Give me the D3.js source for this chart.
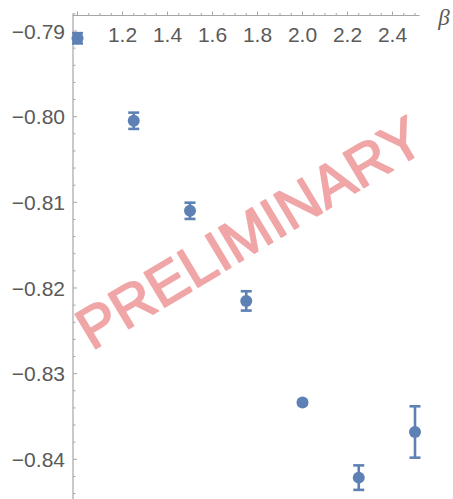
<!DOCTYPE html>
<html>
<head>
<meta charset="utf-8">
<script src="https://cdn.jsdelivr.net/npm/d3@7"></script>
<style>
html,body{margin:0;padding:0;background:#fff;}
svg{display:block;}
</style>
</head>
<body>
<svg id="chart" width="453" height="499"></svg>
<script>
const betas = [1.0, 1.25, 1.5, 1.75, 2.0, 2.25, 2.5];
const values = [-0.79085, -0.80048, -0.81099, -0.82151, -0.83338, -0.84214, -0.83681];
const errors = [0.0006, 0.00095, 0.00095, 0.00113, 0.0002, 0.00143, 0.003];
const xTickLabels = [1.2, 1.4, 1.6, 1.8, 2.0, 2.2, 2.4];
const yTickLabels = [-0.79, -0.80, -0.81, -0.82, -0.83, -0.84];
const xLabel = "β";
const watermark = "PRELIMINARY";

const svg = d3.select("#chart");
const color = "rgb(94,129,181)";
const axisColor = "#a6a6a6";
const labelColor = "#5a5a5a";

const x = d3.scaleLinear().domain([0.98, 2.52]).range([73, 419.5]);
const y = d3.scaleLinear().domain([-0.79, -0.84]).range([31, 459.3]);
const axisY = y.invert(15.5);

// axes lines
const g = svg.append("g");
g.append("line").attr("x1", x(0.98)).attr("x2", x(2.52)).attr("y1", y(axisY)).attr("y2", y(axisY))
  .attr("stroke", axisColor).attr("stroke-width", 1.2);
g.append("line").attr("x1", x(0.98)).attr("x2", x(0.98)).attr("y1", y(axisY) - 2).attr("y2", 499)
  .attr("stroke", axisColor).attr("stroke-width", 1.2);

// x ticks (up from axis)
const xMinor = d3.range(1.0, 2.5001, 0.05).map(v => +v.toFixed(2));
g.selectAll(".xt").data(xMinor).enter().append("line")
  .attr("x1", d => x(d)).attr("x2", d => x(d))
  .attr("y1", y(axisY)).attr("y2", d => y(axisY) - (Math.abs(d*5 - Math.round(d*5)) < 1e-6 ? 4 : 2.5))
  .attr("stroke", axisColor).attr("stroke-width", 1);
g.selectAll(".xl").data(xTickLabels).enter().append("text")
  .attr("x", d => x(d)).attr("y", 41.5).attr("text-anchor", "middle")
  .attr("font-family", "Liberation Sans, Arial, sans-serif").attr("font-size", 21)
  .attr("fill", labelColor).text(d => d.toFixed(1));
g.append("text").attr("x", 444).attr("y", 25).attr("text-anchor", "middle")
  .attr("font-family", "Liberation Serif, Times New Roman, serif").attr("font-style", "italic")
  .attr("font-size", 23).attr("fill", labelColor).text(xLabel);

// y ticks (right of axis)
const yMinor = d3.range(-0.788, -0.8449, -0.002).map(v => +v.toFixed(3));
g.selectAll(".yt").data(yMinor).enter().append("line")
  .attr("y1", d => y(d)).attr("y2", d => y(d))
  .attr("x1", x(0.98)).attr("x2", d => x(0.98) + (Math.abs(d*100 - Math.round(d*100)) < 1e-6 ? 4 : 2.5))
  .attr("stroke", axisColor).attr("stroke-width", 1);
g.selectAll(".yl").data(yTickLabels).enter().append("text")
  .attr("x", 65).attr("y", d => y(d)).attr("dy", "0.36em").attr("text-anchor", "end")
  .attr("font-family", "Liberation Sans, Arial, sans-serif").attr("font-size", 21)
  .attr("fill", labelColor).text(d => "\u2212" + Math.abs(d).toFixed(2));

// watermark
svg.append("text")
  .attr("transform", "translate(249,232) rotate(-31)")
  .attr("text-anchor", "middle").attr("dy", "0.36em")
  .attr("font-family", "Liberation Sans, Arial, sans-serif").attr("font-size", 58)
  .attr("fill", "rgb(222,60,60)").attr("stroke", "rgb(222,60,60)").attr("stroke-width", 1.8)
  .attr("stroke-linejoin", "round")
  .attr("opacity", 0.45).text(watermark);

// data
const data = betas.map((b, i) => ({b, v: values[i], e: errors[i]}));
const pts = svg.append("g");
pts.selectAll(".bar").data(data).enter().append("line")
  .attr("x1", d => x(d.b)).attr("x2", d => x(d.b))
  .attr("y1", d => y(d.v - d.e)).attr("y2", d => y(d.v + d.e))
  .attr("stroke", color).attr("stroke-width", 2.6);
pts.selectAll(".capt").data(data).enter().append("line")
  .attr("x1", d => x(d.b) - 5.5).attr("x2", d => x(d.b) + 5.5)
  .attr("y1", d => y(d.v + d.e)).attr("y2", d => y(d.v + d.e))
  .attr("stroke", color).attr("stroke-width", 2.6);
pts.selectAll(".capb").data(data).enter().append("line")
  .attr("x1", d => x(d.b) - 5.5).attr("x2", d => x(d.b) + 5.5)
  .attr("y1", d => y(d.v - d.e)).attr("y2", d => y(d.v - d.e))
  .attr("stroke", color).attr("stroke-width", 2.6);
pts.selectAll("circle").data(data).enter().append("circle")
  .attr("cx", d => x(d.b)).attr("cy", d => y(d.v)).attr("r", 6)
  .attr("fill", color);
</script>
</body>
</html>
